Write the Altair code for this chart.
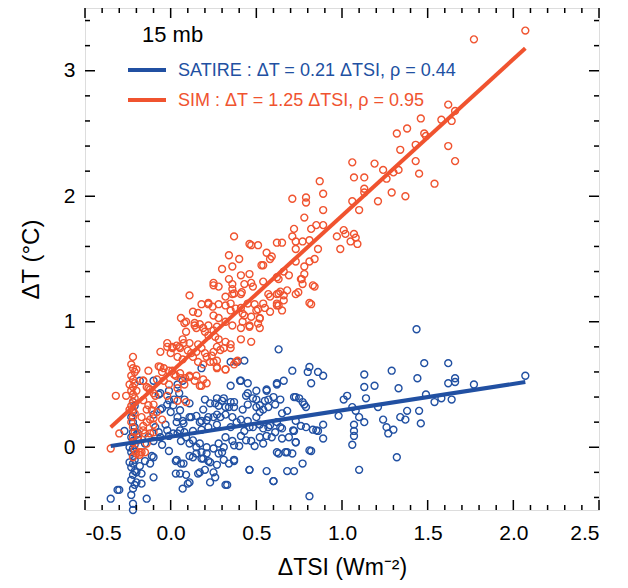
import altair as alt
import pandas as pd

# ---------------- data ----------------
satire_pts = [
    (1.435, 0.94), (2.07, 0.57), (1.77, 0.50), (1.62, 0.67), (1.48, 0.67), (1.44, 0.55), (1.62, 0.51),
    (1.66, 0.55), (1.66, 0.52), (1.49, 0.42), (1.54, 0.36), (1.58, 0.39), (1.64, 0.38), (1.45, 0.29),
    (1.46, 0.19), (1.38, 0.29), (1.34, 0.24), (1.37, 0.22), (1.29, 0.61), (1.33, 0.47), (1.19, 0.49),
    (1.13, 0.58), (1.13, 0.48), (1.14, 0.39), (1.21, 0.32), (1.24, 0.22), (1.26, 0.16), (1.27, 0.11),
    (1.30, 0.14), (1.32, -0.08), (1.10, -0.18), (1.06, 0.02), (1.07, 0.09), (1.07, 0.13), (1.07, 0.18),
    (1.10, 0.24), (1.13, 0.20), (1.08, 0.29), (1.06, 0.32), (1.01, 0.38), (1.03, 0.41), (0.98, 0.25),
    (0.89, 0.57), (0.86, 0.60), (0.82, 0.51), (0.81, 0.64), (0.80, 0.60), (0.71, 0.61), (0.63, 0.78),
    (0.66, 0.53), (0.62, 0.50), (0.56, 0.45), (0.50, 0.45), (0.45, 0.43), (0.41, 0.53), (0.35, 0.49),
    (0.35, 0.68), (0.43, 0.69), (0.39, 0.68), (0.73, 0.40), (0.75, 0.39), (0.78, 0.34), (0.79, 0.32),
    (0.68, 0.29), (0.64, 0.38), (0.61, 0.34), (0.57, 0.38), (0.54, 0.30), (0.50, 0.32), (0.45, 0.34),
    (0.42, 0.30), (0.65, 0.27), (0.73, 0.21), (0.79, 0.16), (0.83, 0.14), (0.86, 0.13), (0.89, 0.18),
    (0.89, 0.07), (0.76, 0.17), (0.72, 0.13), (0.73, 0.04), (0.65, 0.07), (0.61, 0.12), (0.56, 0.09),
    (0.54, 0.03), (0.49, 0.01), (0.62, -0.04), (0.67, -0.04), (0.71, -0.05), (0.82, -0.03), (0.77, -0.13),
    (0.72, -0.19), (0.68, -0.19), (0.56, -0.19), (0.60, -0.27), (0.46, -0.18), (0.81, -0.39), (0.33, -0.30),
    (0.37, -0.11), (0.34, -0.13), (0.27, -0.14), (0.23, -0.28), (0.26, -0.24), (0.20, -0.18), (0.16, -0.21),
    (0.11, -0.28), (0.07, -0.33), (0.09, -0.22), (0.03, -0.21), (0.06, -0.13), (0.03, -0.11), (-0.01, -0.03),
    (-0.05, 0.02), (-0.10, -0.24), (-0.14, -0.41), (-0.17, -0.29), (-0.17, -0.21), (-0.15, -0.11),
    (-0.11, -0.07), (-0.35, -0.41), (-0.30, -0.34), (-0.22, -0.50),
    (0.04, 0.50), (0.05, 0.43), (0.08, 0.38), (0.11, 0.35), (0.02, 0.38), (-0.02, 0.34), (-0.06, 0.30),
    (0.00, 0.28), (0.04, 0.24), (0.07, 0.21), (0.12, 0.24), (0.15, 0.25), (0.19, 0.30), (0.20, 0.38),
    (0.23, 0.35), (0.27, 0.39), (0.30, 0.37), (0.28, 0.33), (0.34, 0.32), (0.37, 0.36), (0.32, 0.26),
    (0.36, 0.24), (0.41, 0.22), (0.45, 0.21), (0.50, 0.24), (0.27, 0.18), (0.22, 0.16), (0.18, 0.14),
    (0.13, 0.13), (0.08, 0.12), (0.04, 0.11), (-0.01, 0.09), (-0.06, 0.08), (0.06, 0.05), (0.11, 0.03),
    (0.15, 0.00), (0.18, -0.04), (0.21, -0.05), (0.25, -0.01), (0.28, 0.03), (0.32, 0.08), (0.36, 0.05),
    (0.41, 0.09), (0.43, 0.13), (0.48, 0.16), (0.52, 0.18), (0.11, -0.07), (0.13, -0.08), (0.18, -0.09),
    (0.22, -0.11), (0.30, -0.04), (0.40, 0.01), (0.47, 0.05), (0.52, 0.08), (0.57, 0.16), (0.62, 0.20),
    (0.64, 0.16), (0.52, 0.28), (0.55, 0.37), (0.50, 0.38), (0.44, 0.41), (0.27, 0.26), (0.22, 0.24),
    (0.18, 0.21), (-0.10, 0.26), (-0.09, 0.16), (-0.07, 0.12), (-0.13, 0.08), (-0.15, 0.03), (-0.10, 0.05),
    (-0.19, 0.11), (-0.03, 0.18), (-0.07, 0.42), (-0.18, 0.53), (-0.01, 0.45), (0.07, 0.53), (0.18, 0.63),
    (-0.22, -0.45), (-0.23, -0.38), (-0.22, -0.33), (-0.21, -0.30), (-0.23, -0.26), (-0.22, -0.22),
    (-0.21, -0.19), (-0.23, -0.16), (-0.22, -0.13), (-0.21, -0.10), (-0.22, -0.07), (-0.23, -0.04),
    (-0.22, -0.01), (-0.21, 0.02), (-0.22, 0.05), (-0.23, 0.08), (-0.22, 0.12), (-0.21, 0.16),
    (-0.22, 0.20), (-0.23, 0.24), (-0.22, 0.28), (-0.21, 0.33), (-0.22, 0.36), (-0.20, -0.28),
    (-0.24, -0.12), (-0.20, 0.10), (-0.24, 0.00), (-0.20, -0.20), (-0.27, 0.13), (-0.18, -0.15),
    (-0.10, 0.53), (-0.06, 0.43), (-0.01, 0.375), (0.015, 0.335), (0.055, 0.295), (-0.05, 0.31),
    (0.035, 0.20), (0.075, 0.19), (0.11, 0.24), (0.17, 0.20), (0.21, 0.215), (0.25, 0.24),
    (-0.02, 0.135), (0.015, 0.11), (0.055, 0.135), (0.09, 0.08), (0.13, 0.055), (0.17, 0.03),
    (0.21, 0.00), (0.035, -0.10), (0.075, -0.13), (0.15, -0.05), (0.19, -0.09), (0.23, -0.12),
    (0.055, -0.21), (0.17, -0.20), (0.10, -0.29), (-0.10, -0.08), (-0.12, -0.13), (-0.31, -0.34),
    (0.405, 0.53), (0.45, 0.51), (0.62, 0.51), (0.56, 0.46), (0.48, 0.39), (0.60, 0.40), (0.72, 0.40),
    (0.77, 0.36), (0.35, 0.36), (0.31, 0.39), (0.26, 0.35), (0.32, 0.32), (0.37, 0.32), (0.52, 0.335),
    (0.57, 0.32), (0.29, 0.24), (0.35, 0.16), (0.385, 0.20), (0.46, 0.16), (0.54, 0.15), (0.58, 0.175),
    (0.65, 0.15), (0.715, 0.135), (0.85, 0.135), (0.81, -0.025), (0.73, 0.04), (0.69, 0.08), (0.59, 0.08),
    (0.44, 0.055), (0.37, 0.015), (0.31, 0.00), (0.28, -0.05), (0.31, -0.10), (0.37, -0.10), (0.25, -0.20),
    (0.46, -0.18), (0.60, -0.27), (0.63, -0.05), (0.68, -0.04), (0.32, -0.30),
]

sim_pts = [
    (2.07, 3.32), (1.77, 3.25), (1.62, 2.73), (1.66, 2.68), (1.46, 2.62), (1.58, 2.61), (1.64, 2.60),
    (1.38, 2.54), (1.32, 2.50), (1.48, 2.50), (1.49, 2.48), (1.62, 2.40), (1.43, 2.41), (1.34, 2.37),
    (1.66, 2.28), (1.43, 2.28), (1.45, 2.18), (1.06, 2.27), (1.19, 2.26), (1.24, 2.21), (1.33, 2.21),
    (1.30, 2.19), (1.26, 2.14), (1.07, 2.15), (1.13, 2.15), (1.54, 2.10), (1.29, 2.03), (1.37, 2.00),
    (1.13, 2.06), (1.13, 2.03), (1.21, 1.96), (1.06, 1.96), (1.10, 1.89), (0.87, 2.12), (0.79, 1.99),
    (0.79, 1.95), (0.71, 1.98), (0.89, 2.02), (0.89, 1.89), (0.78, 1.83), (0.89, 1.77), (0.85, 1.77),
    (0.82, 1.74), (0.72, 1.74), (1.01, 1.73), (0.97, 1.68), (1.02, 1.70), (1.07, 1.70), (1.08, 1.67),
    (1.05, 1.64), (1.09, 1.62), (0.99, 1.58), (0.71, 1.68), (0.73, 1.64), (0.81, 1.65), (0.77, 1.64),
    (0.73, 1.58), (0.86, 1.58), (0.62, 1.63), (0.65, 1.63), (0.37, 1.68), (0.46, 1.62), (0.51, 1.61),
    (0.47, 1.61), (0.56, 1.55), (0.34, 1.53), (0.59, 1.52), (0.58, 1.50), (0.53, 1.45), (0.40, 1.50),
    (0.30, 1.42), (0.36, 1.44), (0.54, 1.45), (0.73, 1.48), (0.81, 1.48), (0.84, 1.50), (0.78, 1.44),
    (0.66, 1.40), (0.78, 1.38), (0.69, 1.37), (0.63, 1.34), (0.76, 1.34), (0.84, 1.28), (0.46, 1.38),
    (0.41, 1.37), (0.34, 1.34), (0.25, 1.31), (0.28, 1.28), (0.36, 1.30), (0.43, 1.30), (0.47, 1.31),
    (0.41, 1.22), (0.11, 1.21), (0.25, 1.29), (0.36, 1.26), (0.48, 1.28), (0.64, 1.24), (0.66, 1.21),
    (0.73, 1.22), (0.82, 1.14), (0.77, 1.30), (0.22, 1.14), (0.18, 1.14), (0.28, 1.14), (0.32, 1.13),
    (0.13, 1.08), (0.16, 1.07), (0.25, 1.05), (0.28, 1.03), (0.35, 1.09), (0.41, 1.11), (0.43, 1.05),
    (0.49, 1.14), (0.55, 1.11), (0.58, 1.08), (0.62, 1.13), (0.65, 1.09), (0.52, 1.03), (0.46, 0.97),
    (0.41, 0.95), (0.32, 1.00), (0.36, 0.97), (0.52, 0.95), (0.06, 1.03), (0.08, 0.99), (0.14, 0.97),
    (0.15, 0.95), (0.09, 0.92), (0.20, 0.92), (0.22, 0.89), (0.26, 0.88), (0.28, 0.86), (0.32, 0.84),
    (0.35, 0.82), (0.31, 0.79), (0.27, 0.80), (0.25, 0.76), (0.20, 0.75), (0.16, 0.82), (0.11, 0.83),
    (0.07, 0.86), (0.05, 0.80), (0.01, 0.79), (-0.02, 0.80), (0.00, 0.75), (0.04, 0.72), (0.07, 0.70),
    (0.13, 0.72), (0.16, 0.68), (0.19, 0.66), (0.23, 0.68), (0.27, 0.63), (0.32, 0.62), (0.38, 0.68),
    (0.41, 0.86), (0.47, 0.84), (-0.06, 0.76), (-0.06, 0.64), (-0.04, 0.63), (-0.01, 0.61), (0.02, 0.58),
    (0.06, 0.55), (0.11, 0.57), (0.15, 0.57), (0.19, 0.54), (0.18, 0.49), (0.08, 0.50), (0.04, 0.47),
    (-0.01, 0.50), (-0.04, 0.53), (-0.08, 0.54), (-0.13, 0.61), (-0.16, 0.53), (-0.13, 0.47),
    (-0.09, 0.41), (-0.02, 0.41), (0.04, 0.37), (0.09, 0.36), (-0.10, 0.34), (-0.14, 0.30), (-0.08, 0.28),
    (-0.05, 0.22), (-0.12, 0.22), (-0.10, 0.18), (-0.16, 0.17), (-0.15, 0.11), (-0.10, 0.12),
    (-0.19, 0.08), (-0.17, -0.04), (-0.20, -0.05), (-0.30, 0.11), (-0.35, -0.01), (-0.32, 0.41),
    (-0.26, 0.41),
    (0.54, 1.32), (0.62, 1.355), (0.765, 1.34), (0.83, 1.29), (0.81, 1.15), (0.745, 1.235), (0.68, 1.25),
    (0.62, 1.22), (0.57, 1.22), (0.51, 1.10), (0.63, 1.13), (0.36, 1.22), (0.415, 1.235),
    (0.22, 1.15), (0.245, 1.12), (0.09, 1.00), (0.14, 0.99), (0.17, 0.98), (0.19, 0.95), (0.22, 0.97),
    (0.25, 0.93), (0.27, 0.96), (-0.02, 0.83), (0.01, 0.80), (0.035, 0.81), (0.055, 0.79), (0.075, 0.83),
    (0.10, 0.77), (0.12, 0.75), (0.15, 0.76), (0.18, 0.79), (0.21, 0.72), (0.24, 0.73), (0.27, 0.69),
    (-0.07, 0.645), (-0.05, 0.60), (0.01, 0.61), (0.03, 0.57), (0.055, 0.59), (0.085, 0.55),
    (0.11, 0.56), (0.14, 0.53), (0.17, 0.49), (0.21, 0.51), (-0.16, 0.53), (-0.14, 0.48), (-0.12, 0.46),
    (-0.10, 0.43), (-0.16, 0.375), (-0.13, 0.335), (-0.11, 0.295), (-0.17, 0.24), (-0.14, 0.20),
    (-0.10, 0.23), (-0.16, 0.135), (-0.12, 0.11), (-0.19, 0.055), (-0.14, 0.03), (-0.18, -0.04),
    (0.35, 0.79), (0.29, 0.775), (0.32, 0.62), (0.37, 0.66), (0.39, 0.69), (0.25, 0.68), (0.27, 0.64),
    (0.42, 1.00), (0.46, 0.96), (0.51, 0.985), (0.52, 1.025), (0.47, 1.04), (0.42, 1.065), (0.38, 1.105),
    (0.35, 1.145), (0.32, 1.20), (0.37, 1.225), (0.45, 1.145), (0.50, 1.09), (0.54, 1.145), (0.62, 1.145),
    (0.66, 1.17), (0.63, 1.225), (0.58, 1.20),
    (-0.22, 0.72), (-0.23, 0.66), (-0.22, 0.63), (-0.21, 0.60), (-0.23, 0.57), (-0.22, 0.54),
    (-0.21, 0.51), (-0.22, 0.48), (-0.23, 0.45), (-0.22, 0.42), (-0.21, 0.39), (-0.22, 0.36),
    (-0.23, 0.33), (-0.22, 0.30), (-0.21, 0.27), (-0.22, 0.24), (-0.23, 0.20), (-0.22, 0.16),
    (-0.21, 0.12), (-0.22, 0.08), (-0.22, 0.04), (-0.21, -0.02), (-0.20, 0.62), (-0.20, 0.45),
    (-0.24, 0.50), (-0.24, 0.30), (-0.18, -0.06), (-0.15, -0.04), (-0.22, -0.08),
]

satire_fit = [(-0.35, 0.01), (2.07, 0.52)]
sim_fit = [(-0.35, 0.16), (2.07, 3.18)]

series_names = ["SATIRE", "SIM"]
series_colors = ["#2150a2", "#f0532f"]
legend_texts = ["SATIRE : \u0394T = 0.21 \u0394TSI, \u03c1 = 0.44",
                "SIM :  \u0394T = 1.25 \u0394TSI, \u03c1 = 0.95"]
panel_label = "15 mb"

x_major = [-0.5, 0.0, 0.5, 1.0, 1.5, 2.0, 2.5]
x_minor = [-0.4, -0.3, -0.2, -0.1, 0.1, 0.2, 0.3, 0.4, 0.6, 0.7, 0.8, 0.9, 1.1, 1.2, 1.3, 1.4,
           1.6, 1.7, 1.8, 1.9, 2.1, 2.2, 2.3, 2.4]
y_major = [0, 1, 2, 3]
y_minor = [-0.4, -0.2, 0.2, 0.4, 0.6, 0.8, 1.2, 1.4, 1.6, 1.8, 2.2, 2.4, 2.6, 2.8, 3.2, 3.4]

# ---------------- chart ----------------
W, H = 514, 502
FONT = "Liberation Sans"

pts = pd.DataFrame(
    [{"x": x, "y": y, "s": series_names[0]} for x, y in satire_pts]
    + [{"x": x, "y": y, "s": series_names[1]} for x, y in sim_pts]
)
fits = pd.DataFrame(
    [{"x": x, "y": y, "s": series_names[0]} for x, y in satire_fit]
    + [{"x": x, "y": y, "s": series_names[1]} for x, y in sim_fit]
)

xs = alt.Scale(domain=[-0.5, 2.5], nice=False, zero=False)
ys = alt.Scale(domain=[-0.5, 3.5], nice=False, zero=False)
cs = alt.Scale(domain=series_names, range=series_colors)

xaxis = alt.Axis(values=x_major, ticks=False, domain=False, grid=False,
                 labelExpr="datum.value < 0 ? '-' + format(-datum.value, '.1f') : format(datum.value, '.1f')",
                 labelFontSize=21, labelFont=FONT, labelColor="black", labelPadding=12,
                 title="\u0394TSI (Wm\u207b\u00b2)", titleFont=FONT, titleFontSize=23,
                 titleFontWeight="normal", titleColor="black", titlePadding=13)
yaxis = alt.Axis(values=y_major, ticks=False, domain=False, grid=False, format="d",
                 labelFontSize=21, labelFont=FONT, labelColor="black", labelPadding=10,
                 title="\u0394T (\u00b0C)", titleFont=FONT, titleFontSize=24,
                 titleFontWeight="normal", titleColor="black", titlePadding=20)

points = alt.Chart(pts).mark_point(shape="circle", filled=False, size=48, strokeWidth=1.4, opacity=1).encode(
    x=alt.X("x:Q", scale=xs, axis=xaxis),
    y=alt.Y("y:Q", scale=ys, axis=yaxis),
    color=alt.Color("s:N", scale=cs, legend=None),
    order=alt.Order("s:N"),
)

lines = alt.Chart(fits).mark_line(strokeWidth=4).encode(
    x=alt.X("x:Q", scale=xs, axis=xaxis),
    y=alt.Y("y:Q", scale=ys, axis=yaxis),
    color=alt.Color("s:N", scale=cs, legend=None),
    detail="s:N",
)

def xticks(vals, length, top):
    df = pd.DataFrame({"x": vals})
    y0 = 0 if top else H
    y1 = length if top else H - length
    return alt.Chart(df).mark_rule(color="black", strokeWidth=1.5).encode(
        x=alt.X("x:Q", scale=xs, axis=xaxis), y=alt.value(y0), y2=alt.value(y1))

def yticks(vals, length, right):
    df = pd.DataFrame({"y": vals})
    x0 = W if right else 0
    x1 = W - length if right else length
    return alt.Chart(df).mark_rule(color="black", strokeWidth=1.5).encode(
        y=alt.Y("y:Q", scale=ys, axis=yaxis), x=alt.value(x0), x2=alt.value(x1))

ticks = [
    xticks(x_major, 10, False), xticks(x_major, 10, True),
    xticks(x_minor, 5, False), xticks(x_minor, 5, True),
    yticks(y_major, 10, False), yticks(y_major, 10, True),
    yticks(y_minor, 5, False), yticks(y_minor, 5, True),
]

legend_layers = []
for i, (name, txt) in enumerate(zip(series_names, legend_texts)):
    df = pd.DataFrame({"s": [name], "t": [txt]})
    legend_layers.append(
        alt.Chart(df).mark_rule(strokeWidth=4).encode(
            x=alt.value(43), x2=alt.value(81), y=alt.value(62 + 30 * i),
            color=alt.Color("s:N", scale=cs, legend=None))
    )
    legend_layers.append(
        alt.Chart(df).mark_text(align="left", baseline="middle", font=FONT, fontSize=18).encode(
            x=alt.value(93), y=alt.value(63 + 30 * i), text="t:N",
            color=alt.Color("s:N", scale=cs, legend=None))
    )

label = alt.Chart(pd.DataFrame({"t": [panel_label]})).mark_text(
    align="left", baseline="middle", font=FONT, fontSize=22, color="black").encode(
    x=alt.value(57), y=alt.value(27), text="t:N")

chart = alt.layer(points, lines, *ticks, *legend_layers, label).properties(
    width=W, height=H,
    autosize=alt.AutoSizeParams(type="none"),
    padding={"left": 77, "top": 0, "right": 20, "bottom": 78},
).configure_view(stroke="black", strokeWidth=2).configure(background="white")

chart.save("out.html", embed_options={"renderer": "svg", "actions": False})
